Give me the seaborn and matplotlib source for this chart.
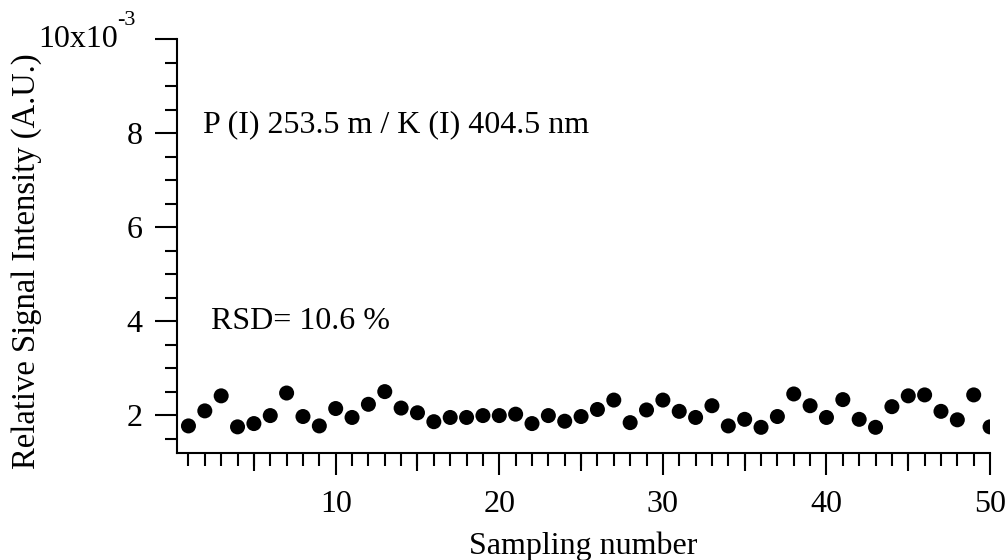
import matplotlib
matplotlib.use("Agg")
import matplotlib.pyplot as plt
import numpy as np
import pandas as pd
import seaborn as sns
from matplotlib.ticker import MultipleLocator, FixedLocator

# --- data (signal in units of 1e-3) ---
sample_no = list(range(1, 51))
signal_e3 = [
    1.77, 2.09, 2.41, 1.75, 1.82, 1.99, 2.47, 1.97, 1.77, 2.14,
    1.95, 2.23, 2.50, 2.15, 2.05, 1.86, 1.95, 1.95, 1.99, 1.99,
    2.02, 1.82, 1.99, 1.87, 1.97, 2.12, 2.32, 1.84, 2.11, 2.32,
    2.08, 1.95, 2.20, 1.77, 1.91, 1.74, 1.97, 2.45, 2.20, 1.95,
    2.33, 1.91, 1.74, 2.18, 2.41, 2.43, 2.08, 1.90, 2.43, 1.75,
]
y_major = [2, 4, 6, 8, 10]
y_labels = ["2", "4", "6", "8", ""]
x_medium = [5, 15, 25, 35, 45]

LINE_W = 1.5
FS = 23
FONT = ["Liberation Serif", "DejaVu Serif"]

sns.set_theme(style="ticks")
plt.rcParams["font.family"] = FONT

df = pd.DataFrame({"sample": sample_no, "signal": signal_e3})

fig = plt.figure(figsize=(10.08, 5.6), dpi=100)
ax = fig.add_axes([0.1756, 0.1916, 0.9822 - 0.1756, 0.93 - 0.1916])

sns.scatterplot(data=df, x="sample", y="signal", color="black", s=117,
                edgecolor="none", linewidth=0, ax=ax, legend=False)

ax.set_xlim(0.3, 50)
ax.set_ylim(1.2, 10)

for side in ["top", "right"]:
    ax.spines[side].set_visible(False)
for side in ["left", "bottom"]:
    ax.spines[side].set_linewidth(LINE_W)
    ax.spines[side].set_color("black")

ax.xaxis.set_major_locator(MultipleLocator(10))
ax.xaxis.set_minor_locator(MultipleLocator(1))
ax.yaxis.set_major_locator(FixedLocator(y_major))
ax.set_yticklabels(y_labels)
ax.yaxis.set_minor_locator(MultipleLocator(0.5))

ax.tick_params(which="major", direction="out", length=16, width=LINE_W,
               color="black", labelsize=FS, labelcolor="black")
ax.tick_params(which="minor", direction="out", length=9, width=LINE_W, color="black")
ax.tick_params(axis="x", which="major", pad=11)
ax.tick_params(axis="y", which="major", pad=9)

# medium ticks at the fives
sec = ax.secondary_xaxis("bottom")
sec.set_xticks(x_medium)
sec.tick_params(length=13, width=LINE_W, color="black", labelbottom=False)
sec.spines["bottom"].set_visible(False)

# exponent label at the top tick
ax.annotate("10x10", xy=(0, 10), xycoords=("axes fraction", "data"),
            xytext=(-42.5, 0), textcoords="offset points", ha="right", va="center",
            fontsize=FS, color="black")
ax.annotate("-3", xy=(0, 10), xycoords=("axes fraction", "data"),
            xytext=(-43, 10), textcoords="offset points", ha="left", va="baseline",
            fontsize=16, color="black")

ax.set_xlabel("Sampling number", fontsize=FS, color="black")
ax.set_ylabel("Relative Signal Intensity (A.U.)", fontsize=23.5, color="black")
ax.xaxis.set_label_coords(0.5, -0.19)
ax.yaxis.set_label_coords(-0.166, 0.464)

ax.text(1.88, 8.01, "P (I) 253.5 m / K (I) 404.5 nm", fontsize=FS,
        ha="left", va="baseline", color="black")
ax.text(2.37, 3.83, "RSD= 10.6 %", fontsize=FS, ha="left", va="baseline", color="black")

fig.savefig("out.png", dpi=100)
